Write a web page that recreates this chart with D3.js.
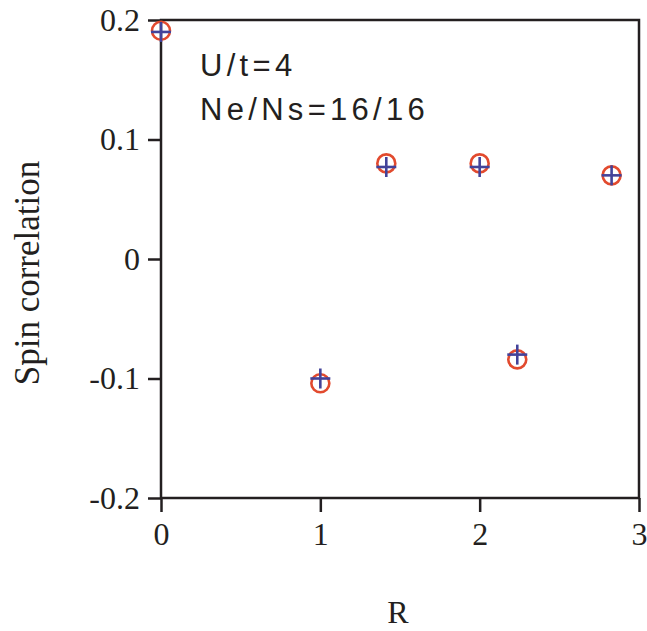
<!DOCTYPE html>
<html>
<head>
<meta charset="utf-8">
<script src="https://cdn.jsdelivr.net/npm/d3@7"></script>
<style>
  body { margin: 0; background: #fff; }
  svg { display: block; }
</style>
</head>
<body>
<script>
// distance R and the two data sets (circles = red, crosses = blue)
var distances = [0, 1, 1.414, 2, 2.236, 2.828];
var circleValues = [0.191, -0.104, 0.080, 0.080, -0.084, 0.070];
var crossValues = [0.190, -0.100, 0.077, 0.077, -0.080, 0.070];
var xTicks = [0, 1, 2, 3];
var yTicks = [0.2, 0.1, 0, -0.1, -0.2];
var notes = ['U/t=4', 'Ne/Ns=16/16'];

var width = 647, height = 631;
var plotL = 161, plotR = 639, plotT = 20, plotB = 498;
var ink = '#231f20';

var svg = d3.select('body').append('svg')
  .attr('width', width)
  .attr('height', height);

var xScale = d3.scaleLinear().domain([0, 3]).range([plotL, plotR]);
var yScale = d3.scaleLinear().domain([-0.2, 0.2]).range([plotB, plotT]);

var fmt = function(d) { return String(d); };

// frame
svg.append('rect')
  .attr('x', plotL).attr('y', plotT)
  .attr('width', plotR - plotL).attr('height', plotB - plotT)
  .attr('fill', 'none').attr('stroke', ink).attr('stroke-width', 2.5);

var xAxis = svg.append('g')
  .attr('transform', 'translate(0,' + plotB + ')')
  .call(d3.axisBottom(xScale).tickValues(xTicks).tickSize(14).tickPadding(10).tickFormat(fmt));

var yAxis = svg.append('g')
  .attr('transform', 'translate(' + plotL + ',0)')
  .call(d3.axisLeft(yScale).tickValues(yTicks).tickSize(13).tickPadding(8).tickFormat(fmt));

[xAxis, yAxis].forEach(function(ax) {
  ax.select('.domain').remove();
  ax.selectAll('.tick line').attr('stroke', ink).attr('stroke-width', 2.5);
  ax.selectAll('.tick text')
    .attr('fill', ink)
    .attr('font-family', '"Liberation Serif", "Times New Roman", serif')
    .attr('font-size', 32);
});

// axis titles
svg.append('text')
  .attr('x', (plotL + plotR) / 2 - 2)
  .attr('y', 623)
  .attr('text-anchor', 'middle')
  .attr('fill', ink)
  .attr('font-family', '"Liberation Serif", "Times New Roman", serif')
  .attr('font-size', 32)
  .text('R');

svg.append('text')
  .attr('transform', 'translate(39,' + 273 + ') rotate(-90)')
  .attr('text-anchor', 'middle')
  .attr('fill', ink)
  .attr('font-family', '"Liberation Serif", "Times New Roman", serif')
  .attr('font-size', 35)
  .text('Spin correlation');

// annotation
svg.selectAll('.note')
  .data(notes)
  .enter()
  .append('text')
  .attr('class', 'note')
  .attr('x', 200)
  .attr('y', function(d, i) { return 76 + i * 44; })
  .attr('fill', ink)
  .attr('font-family', '"Liberation Sans", Arial, sans-serif')
  .attr('font-size', 31)
  .attr('letter-spacing', 4.3)
  .text(function(d) { return d; });

// red circles
svg.selectAll('.circ')
  .data(distances)
  .enter()
  .append('circle')
  .attr('class', 'circ')
  .attr('cx', function(d) { return xScale(d); })
  .attr('cy', function(d, i) { return yScale(circleValues[i]); })
  .attr('r', 9)
  .attr('fill', 'none')
  .attr('stroke', '#e24a2e')
  .attr('stroke-width', 2.6);

// blue crosses
var arm = 10;
var cross = svg.selectAll('.cross')
  .data(distances)
  .enter()
  .append('g')
  .attr('class', 'cross')
  .attr('transform', function(d, i) { return 'translate(' + xScale(d) + ',' + yScale(crossValues[i]) + ')'; });

cross.append('line')
  .attr('x1', -arm).attr('x2', arm).attr('y1', 0).attr('y2', 0)
  .attr('stroke', '#43439a').attr('stroke-width', 2.6);
cross.append('line')
  .attr('x1', 0).attr('x2', 0).attr('y1', -arm).attr('y2', arm)
  .attr('stroke', '#43439a').attr('stroke-width', 2.6);
</script>
</body>
</html>
